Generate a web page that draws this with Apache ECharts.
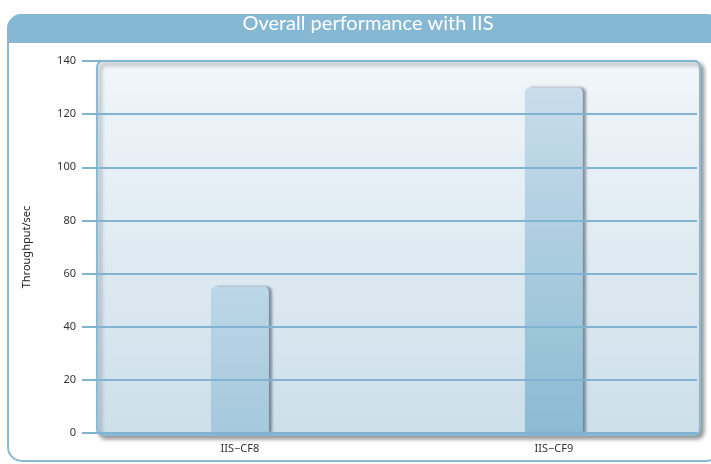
<!DOCTYPE html>
<html><head><meta charset="utf-8">
<script src="https://cdn.jsdelivr.net/npm/echarts@6/dist/echarts.min.js"></script>
<style>html,body{margin:0;padding:0;background:#fff}#c{width:711px;height:464px}</style>
</head><body><div id="c"></div>
<script>
var categories = ['IIS\u2212CF8', 'IIS\u2212CF9'];
var throughput = [55, 130];
var yTicks = [0, 20, 40, 60, 80, 100, 120, 140];
var titleText = 'Overall performance with IIS';
var yName = 'Throughput/sec';

var chart = echarts.init(document.getElementById('c'), null, {renderer: 'canvas'});
var G = echarts.graphic;
var barTops = ['#BCD7E7', '#C9DDEA'];
var barBottoms = ['#A5C8DC', '#8BBBD3'];
var data = throughput.map(function (v, i) {
  return {
    value: [i, v],
    itemStyle: {
      color: new G.LinearGradient(0, 0, 0, 1, [{offset: 0, color: barTops[i]}, {offset: 1, color: barBottoms[i]}])
    }
  };
});
chart.setOption({
  animation: false,
  title: {
    text: titleText, left: 363, top: 9, textAlign: 'center',
    textStyle: {color: '#fff', fontSize: 20, fontWeight: 'normal', fontFamily: 'Lato'}
  },
  graphic: [
    {type: 'rect', z: -20, shape: {x: 8, y: 15, width: 712, height: 446, r: 14},
     style: {fill: '#fff', stroke: '#87B9D4', lineWidth: 2}},
    {type: 'rect', z: -19, shape: {x: 8, y: 15, width: 712, height: 27, r: [14, 14, 0, 0]},
     style: {fill: '#86B8D3', stroke: '#86B8D3', lineWidth: 2}},
    {type: 'rect', z: -18, shape: {x: 97, y: 61, width: 603, height: 374, r: 6},
     style: {
       fill: new G.LinearGradient(0, 0, 0, 1, [{offset: 0, color: '#F1F6FA'}, {offset: 1, color: '#CDDFEA'}]),
       stroke: '#8ABBD5', lineWidth: 2,
       shadowColor: 'rgba(0,0,0,0.4)', shadowBlur: 4, shadowOffsetX: 3, shadowOffsetY: 3
     }}
  ],
  grid: {left: 82, right: 14, top: 61, bottom: 31, containLabel: false},
  xAxis: {
    type: 'value', min: -0.503, max: 1.456,
    axisLine: {show: false}, axisTick: {show: false}, splitLine: {show: false},
    axisLabel: {
      customValues: [0, 1], margin: 10, color: '#333', fontSize: 11, fontFamily: 'Noto Sans',
      formatter: function (v) { return categories[Math.round(v)] || ''; }
    }
  },
  yAxis: {
    type: 'value', min: 0, max: 140, interval: 20, z: 5,
    name: yName, nameLocation: 'middle', nameGap: 50,
    nameTextStyle: {color: '#222', fontSize: 11, fontFamily: 'Noto Sans'},
    axisLine: {show: false}, axisTick: {show: false},
    axisLabel: {margin: 6, color: '#333', fontSize: 11, fontFamily: 'Noto Sans',
      formatter: function (v) { return yTicks.indexOf(v) >= 0 ? String(v) : ''; }},
    splitLine: {show: true, lineStyle: {color: '#80B4D0', width: 2}}
  },
  series: [{
    type: 'bar', data: data, barWidth: 58, z: 2,
    itemStyle: {borderRadius: [5, 5, 0, 0], shadowColor: 'rgba(40,60,80,0.55)', shadowBlur: 3, shadowOffsetX: 3, shadowOffsetY: 0}
  }]
});
</script></body></html>
